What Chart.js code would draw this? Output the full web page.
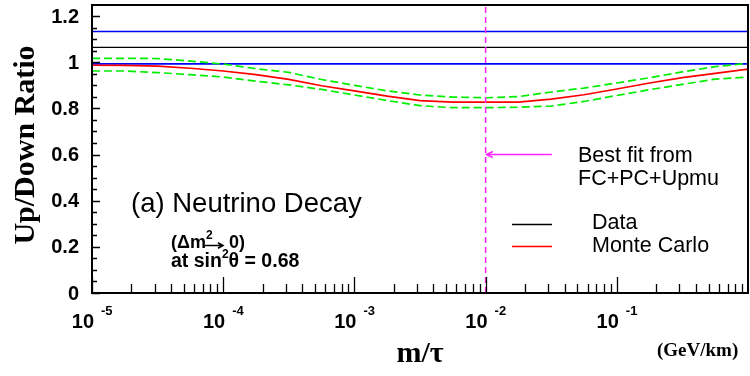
<!DOCTYPE html>
<html lang="en">
<head>
<meta charset="UTF-8">
<title>Up/Down Ratio vs m/tau</title>
<style>
  body { margin: 0; background: #fff; }
  #wrap { width: 750px; height: 376px; }
</style>
</head>
<body>
<div id="wrap"><canvas id="ratioChart" width="750" height="376"></canvas></div>
<script src="https://cdn.jsdelivr.net/npm/chart.js"></script>
<script>
// log10(m/tau) sample points, quarter-decade spacing
const logMass = [-5, -4.75, -4.5, -4.25, -4, -3.75, -3.5, -3.25, -3, -2.75, -2.5,
                 -2.25, -2, -1.75, -1.5, -1.25, -1, -0.75, -0.5, -0.25, 0];
// Monte Carlo expectation and its +/- band
const mcRatio = [0.987, 0.986, 0.983, 0.974, 0.962, 0.946, 0.926, 0.898, 0.876, 0.853, 0.834,
                 0.827, 0.827, 0.827, 0.840, 0.859, 0.884, 0.910, 0.933, 0.952, 0.970];
const mcUpper = [1.017, 1.017, 1.016, 1.005, 0.992, 0.972, 0.956, 0.925, 0.900, 0.876, 0.858,
                 0.849, 0.846, 0.851, 0.871, 0.888, 0.910, 0.933, 0.958, 0.981, 0.995];
const mcLower = [0.962, 0.962, 0.955, 0.946, 0.936, 0.918, 0.902, 0.882, 0.858, 0.834, 0.812,
                 0.803, 0.803, 0.805, 0.810, 0.830, 0.856, 0.881, 0.904, 0.927, 0.936];
// measured ratio and its error band
const dataRatio = 1.064;
const dataBand = [0.993, 1.133];
// best fit marker
const bestFit = 1e-2;
const arrowX = [0.0102, 0.032];
const arrowY = 0.6;
// axes
const xRange = [1e-5, 1];
const yRange = [0, 1.248];
const xDecades = [-5, -4, -3, -2, -1];
const yLabels = [0, 0.2, 0.4, 0.6, 0.8, 1, 1.2];

const SANS = '"Liberation Sans", Arial, sans-serif';
const SERIF = '"Liberation Serif", "Times New Roman", serif';

const pts = ys => logMass.map((l, i) => ({ x: Math.pow(10, l), y: ys[i] }));
const flat = v => [{ x: xRange[0], y: v }, { x: xRange[1], y: v }];

function txt(ctx, s, x, y, font, align) {
  ctx.font = font;
  ctx.textAlign = align || 'left';
  ctx.fillText(s, x, y);
  return ctx.measureText(s).width;
}

function arrowLine(ctx, x0, x1, yy, head) {
  // horizontal line with an open head at x0
  const dir = x1 > x0 ? 1 : -1;
  ctx.beginPath();
  ctx.moveTo(x1, yy);
  ctx.lineTo(x0, yy);
  ctx.moveTo(x0 + dir * head, yy - head * 0.55);
  ctx.lineTo(x0, yy);
  ctx.lineTo(x0 + dir * head, yy + head * 0.55);
  ctx.stroke();
}

const decorations = {
  id: 'decorations',
  afterDatasetsDraw(chart) {
    const { ctx, chartArea: a, scales: { x, y } } = chart;
    ctx.save();
    ctx.fillStyle = '#000';
    ctx.strokeStyle = '#000';
    ctx.textBaseline = 'alphabetic';

    // frame
    ctx.lineWidth = 2;
    ctx.strokeRect(a.left, a.top, a.right - a.left, a.bottom - a.top);

    // y ticks, every 0.05, longer on 0.2
    ctx.lineWidth = 1.3;
    ctx.beginPath();
    for (let i = 0; i <= 24; i++) {
      const py = Math.round(y.getPixelForValue(i * 0.05)) + 0.5;
      const len = i % 4 === 0 ? 8 : 5;
      ctx.moveTo(a.left, py);
      ctx.lineTo(a.left + len, py);
    }
    // x ticks, 1..9 per decade
    xDecades.forEach(d => {
      for (let k = 1; k <= 9; k++) {
        const px = Math.round(x.getPixelForValue(k * Math.pow(10, d))) + 0.5;
        const len = k === 1 ? 16 : 9;
        ctx.moveTo(px, a.bottom);
        ctx.lineTo(px, a.bottom - len);
      }
    });
    ctx.stroke();

    // y tick labels
    ctx.textBaseline = 'middle';
    yLabels.forEach(v => {
      const s = v === 0 ? '0' : v === 1 ? '1' : v.toFixed(1);
      txt(ctx, s, a.left - 13, y.getPixelForValue(v) + 1, 'bold 20px ' + SANS, 'right');
    });
    ctx.textBaseline = 'alphabetic';

    // x tick labels: 10 with exponent
    xDecades.forEach(d => {
      const px = x.getPixelForValue(Math.pow(10, d));
      txt(ctx, '10', px + 2, 328, 'bold 20px ' + SANS, 'right');
      txt(ctx, String(d), px + 9, 315, 'bold 13px ' + SANS, 'left');
    });

    // axis titles
    ctx.save();
    ctx.translate(34, 145);
    ctx.rotate(-Math.PI / 2);
    txt(ctx, 'Up/Down Ratio', 0, 0, 'bold 30px ' + SERIF, 'center');
    ctx.restore();
    txt(ctx, 'm/\u03c4', (a.left + a.right) / 2, 362, 'bold 30px ' + SERIF, 'center');
    txt(ctx, '(GeV/km)', 657, 356, 'bold 19px ' + SERIF, 'left');

    // panel text
    txt(ctx, '(a) Neutrino Decay', 131, 212, '27.5px ' + SANS, 'left');
    let cx = 171;
    cx += txt(ctx, '(\u0394m', cx, 248, 'bold 18px ' + SANS);
    txt(ctx, '2', cx, 239, 'bold 12px ' + SANS);
    ctx.lineWidth = 1.6;
    arrowLine(ctx, cx + 17, cx - 1, 245.5, 5);
    cx += 18;
    txt(ctx, ' 0)', cx, 248, 'bold 18px ' + SANS);
    cx = 171;
    cx += txt(ctx, 'at sin', cx, 267, 'bold 19.5px ' + SANS);
    cx += txt(ctx, '2', cx, 258, 'bold 12px ' + SANS);
    txt(ctx, '\u03b8 = 0.68', cx, 267, 'bold 19.5px ' + SANS);

    // arrowhead on the best fit pointer
    const ax = x.getPixelForValue(arrowX[0]);
    const ay = y.getPixelForValue(arrowY);
    ctx.strokeStyle = '#ff22ff';
    ctx.lineWidth = 1.5;
    ctx.beginPath();
    ctx.moveTo(ax + 6, ay - 3);
    ctx.lineTo(ax, ay);
    ctx.lineTo(ax + 6, ay + 3);
    ctx.stroke();

    // legend
    ctx.fillStyle = '#000';
    txt(ctx, 'Best fit from', 578, 162, '21.5px ' + SANS);
    txt(ctx, 'FC+PC+Upmu', 578, 185, '21.5px ' + SANS);
    ctx.lineWidth = 1.3;
    ctx.strokeStyle = '#000';
    ctx.beginPath(); ctx.moveTo(512, 224.5); ctx.lineTo(552, 224.5); ctx.stroke();
    ctx.strokeStyle = '#ff0000';
    ctx.lineWidth = 1.6;
    ctx.beginPath(); ctx.moveTo(512, 246.5); ctx.lineTo(552, 246.5); ctx.stroke();
    txt(ctx, 'Data', 592, 229, '21.5px ' + SANS);
    txt(ctx, 'Monte Carlo', 592, 252, '21.5px ' + SANS);

    ctx.restore();
  }
};

new Chart(document.getElementById('ratioChart'), {
  type: 'line',
  data: {
    datasets: [
      { label: 'Best fit', data: [{ x: bestFit, y: yRange[0] }, { x: bestFit, y: yRange[1] }],
        borderColor: '#ff22ff', borderWidth: 1.5, borderDash: [6, 4] },
      { label: 'Best fit pointer', data: arrowX.map(v => ({ x: v, y: arrowY })),
        borderColor: '#ff22ff', borderWidth: 1.5 },
      { label: 'Monte Carlo', data: pts(mcRatio), borderColor: '#ff0000', borderWidth: 1.7 },
      { label: 'MC upper', data: pts(mcUpper), borderColor: '#00ee00', borderWidth: 1.7, borderDash: [8, 4] },
      { label: 'MC lower', data: pts(mcLower), borderColor: '#00ee00', borderWidth: 1.7, borderDash: [8, 4] },
      { label: 'Data', data: flat(dataRatio), borderColor: '#000000', borderWidth: 1.3 },
      { label: 'Data upper', data: flat(dataBand[1]), borderColor: '#0000ff', borderWidth: 1.6 },
      { label: 'Data lower', data: flat(dataBand[0]), borderColor: '#0000ff', borderWidth: 1.6 }
    ]
  },
  options: {
    responsive: false,
    animation: false,
    elements: { point: { radius: 0 }, line: { tension: 0 } },
    layout: { padding: { top: 5, right: 2, left: 0, bottom: 0 } },
    plugins: { legend: { display: false }, tooltip: { enabled: false } },
    scales: {
      x: {
        type: 'logarithmic', min: xRange[0], max: xRange[1],
        grid: { display: false, drawTicks: false }, border: { display: false },
        ticks: { display: false },
        afterFit: s => { s.height = 83; }
      },
      y: {
        type: 'linear', min: yRange[0], max: yRange[1],
        grid: { display: false, drawTicks: false }, border: { display: false },
        ticks: { display: false },
        afterFit: s => { s.width = 92; }
      }
    }
  },
  plugins: [decorations]
});
</script>
</body>
</html>
